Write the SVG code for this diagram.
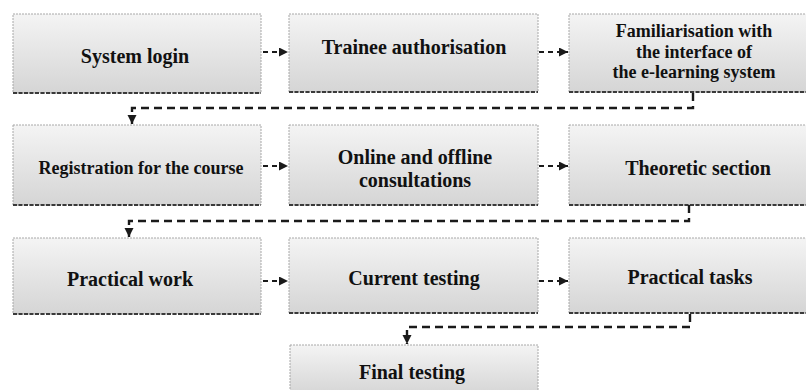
<svg xmlns="http://www.w3.org/2000/svg" width="806" height="390" viewBox="0 0 806 390">
  <defs>
    <linearGradient id="boxFill" x1="0" y1="0" x2="0" y2="1">
      <stop offset="0" stop-color="#f4f4f4"/>
      <stop offset="0.45" stop-color="#e6e6e6"/>
      <stop offset="1" stop-color="#d5d5d5"/>
    </linearGradient>
    <marker id="head" markerUnits="userSpaceOnUse" markerWidth="10" markerHeight="10" refX="9" refY="4.5" orient="auto">
      <path d="M0,0 L9,4.5 L0,9 Z" fill="#1a1a1a"/>
    </marker>
  </defs>
  <style>
    .box { fill: url(#boxFill); stroke: #a8a8a8; stroke-width: 1; stroke-dasharray: 2 1; }
    .base { stroke: #3a3a3a; stroke-width: 2; stroke-dasharray: 4 1.5; fill: none; }
    .lbl { font-weight: bold; font-size: 20px; fill: #111; text-anchor: middle; }
    .sm { font-size: 18px; }
    .hop { stroke: #1a1a1a; stroke-width: 2; stroke-dasharray: 5 4; fill: none; marker-end: url(#head); }
    .wrap { stroke: #1a1a1a; stroke-width: 2.4; stroke-dasharray: 8 5; fill: none; marker-end: url(#head); }
  </style>
  <rect width="806" height="390" fill="#ffffff"/>

  <g font-family="Liberation Serif, Times New Roman, serif">
    <!-- row 1 -->
    <g id="system-login">
      <rect class="box" x="13" y="14" width="248" height="79"/>
      <line class="base" x1="13" y1="93" x2="261" y2="93"/>
      <text class="lbl" x="135" y="63">System login</text>
    </g>
    <g id="trainee-authorisation">
      <rect class="box" x="289" y="14" width="249" height="78"/>
      <line class="base" x1="289" y1="92" x2="538" y2="92"/>
      <text class="lbl" x="414" y="54">Trainee authorisation</text>
    </g>
    <g id="familiarisation">
      <rect class="box" x="569" y="14" width="246" height="78"/>
      <line class="base" x1="569" y1="92" x2="815" y2="92"/>
      <text class="lbl sm" x="694" y="37">Familiarisation with</text>
      <text class="lbl sm" x="694" y="58">the interface of</text>
      <text class="lbl sm" x="694" y="78">the e-learning system</text>
    </g>

    <!-- row 2 -->
    <g id="registration">
      <rect class="box" x="13" y="125" width="248" height="80"/>
      <line class="base" x1="13" y1="205" x2="261" y2="205"/>
      <text class="lbl sm" x="141" y="174">Registration for the course</text>
    </g>
    <g id="consultations">
      <rect class="box" x="289" y="125" width="249" height="80"/>
      <line class="base" x1="289" y1="205" x2="538" y2="205"/>
      <text class="lbl" x="415" y="164">Online and offline</text>
      <text class="lbl" x="415" y="187">consultations</text>
    </g>
    <g id="theoretic-section">
      <rect class="box" x="569" y="125" width="246" height="80"/>
      <line class="base" x1="569" y1="205" x2="815" y2="205"/>
      <text class="lbl" x="698" y="175">Theoretic section</text>
    </g>

    <!-- row 3 -->
    <g id="practical-work">
      <rect class="box" x="13" y="238" width="248" height="76"/>
      <line class="base" x1="13" y1="314" x2="261" y2="314"/>
      <text class="lbl" x="130" y="286">Practical work</text>
    </g>
    <g id="current-testing">
      <rect class="box" x="289" y="238" width="249" height="75"/>
      <line class="base" x1="289" y1="313" x2="538" y2="313"/>
      <text class="lbl" x="414" y="285">Current testing</text>
    </g>
    <g id="practical-tasks">
      <rect class="box" x="569" y="238" width="246" height="75"/>
      <line class="base" x1="569" y1="313" x2="815" y2="313"/>
      <text class="lbl" x="690" y="284">Practical tasks</text>
    </g>

    <!-- row 4 -->
    <g id="final-testing">
      <rect class="box" x="290" y="345" width="248" height="50"/>
      <text class="lbl" x="412" y="379">Final testing</text>
    </g>
  </g>

  <!-- connectors -->
  <g id="connectors">
    <path class="hop" d="M263 52 H288"/>
    <path class="hop" d="M539 52 H568"/>
    <path class="hop" d="M263 166 H288"/>
    <path class="hop" d="M539 166 H568"/>
    <path class="hop" d="M263 281 H288"/>
    <path class="hop" d="M539 281 H568"/>
    <path class="wrap" d="M693 93 V108 H132 V124"/>
    <path class="wrap" d="M689 205 V221 H129 V237"/>
    <path class="wrap" d="M690 314 V327 H407 V344"/>
  </g>
</svg>
